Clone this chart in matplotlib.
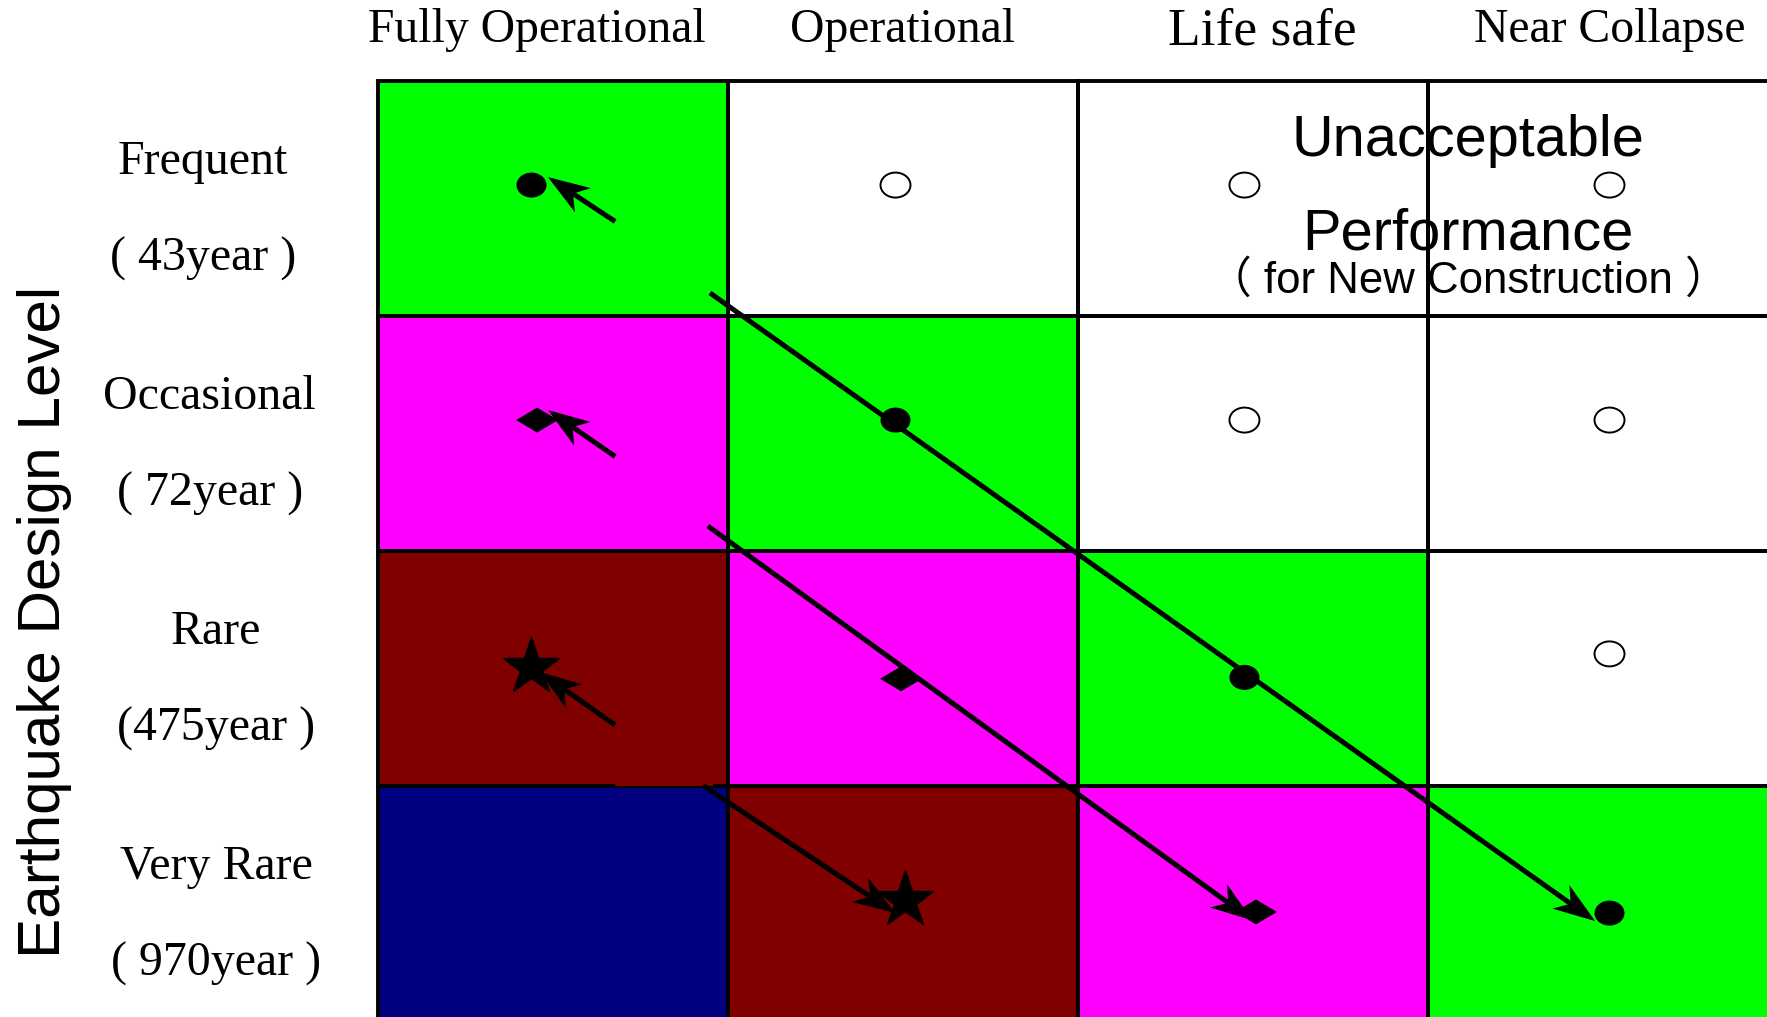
import numpy as np
import matplotlib
matplotlib.use('Agg')
import matplotlib.pyplot as plt
from matplotlib.patches import Rectangle, Ellipse, Polygon

# performance levels (columns) and earthquake levels (rows)
levels = ['Fully Operational', 'Operational', 'Life safe', 'Near Collapse']
hazards = ['Frequent', 'Occasional', 'Rare', 'Very Rare']
periods = ['( 43year )', '( 72year )', '(475year )', '( 970year )']

green, magenta, maroon, navy = '#00ff00', '#ff00ff', '#800000', '#000080'
cell_colors = [
    [green, 'white', 'white', 'white'],
    [magenta, green, 'white', 'white'],
    [maroon, magenta, green, 'white'],
    [navy, maroon, magenta, green],
]

# markers (col, row units)
filled_x = [0.44, 1.48, 2.477, 3.52]
filled_y = [0.445, 1.445, 2.54, 3.543]
open_x = [1.48, 2.477, 3.52, 2.477, 3.52, 3.52]
open_y = [0.445, 0.445, 0.445, 1.445, 1.445, 2.44]
diamond_x = [0.456, 1.496, 2.51]
diamond_y = [1.445, 2.546, 3.538]
star_x = [0.439, 1.507]
star_y = [2.496, 3.487]

# arrows: tail x, tail y, tip x, tip y
arrows = [
    (0.679, 0.60, 0.487, 0.411),
    (0.679, 1.60, 0.487, 1.402),
    (0.679, 2.743, 0.464, 2.517),
    (0.95, 0.904, 3.479, 3.577),
    (0.944, 1.896, 2.50, 3.574),
    (0.93, 3.0, 1.479, 3.543),
]

W, H = 1767, 1017
left, top, cw, rh = 377.5, 80.5, 350.0, 235.0

fig = plt.figure(figsize=(W / 100, H / 100), dpi=100)
ax = fig.add_axes([0, 0, 1, 1])
ax.set_xlim(-left / cw, (W - left) / cw)
ax.set_ylim((H - top) / rh, -top / rh)
ax.axis('off')

for r in range(4):
    for c in range(4):
        ax.add_patch(Rectangle((c, r), 1, 1, facecolor=cell_colors[r][c], edgecolor='none'))
for r in range(4):
    for c in range(4):
        ax.add_patch(Rectangle((c, r), 1, 1, facecolor='none', edgecolor='black', lw=2.8))

# little gap in the line under the Rare / Fully Operational cell
ax.add_patch(Rectangle((0.679, 2.966), 0.28, 0.036, facecolor=maroon, edgecolor='none'))

ew, eh = 30 / cw, 25 / rh
for x, y in zip(filled_x, filled_y):
    ax.add_patch(Ellipse((x, y), ew, eh, facecolor='black', edgecolor='none', zorder=4))
for x, y in zip(open_x, open_y):
    ax.add_patch(Ellipse((x, y), ew, eh, facecolor='white', edgecolor='black', lw=1.4, zorder=4))
dw, dh = 21 / cw, 12.5 / rh
for x, y in zip(diamond_x, diamond_y):
    ax.add_patch(Polygon([(x - dw, y), (x, y - dh), (x + dw, y), (x, y + dh)],
                         closed=True, facecolor='black', edgecolor='none', zorder=4))
ax.plot(star_x, star_y, ls='none', marker='*', ms=43, color='black', zorder=4)

fig.canvas.draw()
to_px = ax.transData
to_data = ax.transData.inverted()
for x0, y0, x1, y1 in arrows:
    p0 = to_px.transform((x0, y0))
    p1 = to_px.transform((x1, y1))
    u = (p1 - p0) / np.hypot(*(p1 - p0))
    n = np.array([-u[1], u[0]])
    notch = p1 - 30 * u
    head = [p1, p1 - 42 * u + 14.5 * n, notch, p1 - 42 * u - 14.5 * n]
    shaft = to_data.transform([p0, notch])
    ax.plot(shaft[:, 0], shaft[:, 1], color='black', lw=3.6, solid_capstyle='butt', zorder=5)
    ax.add_patch(Polygon(to_data.transform(head), closed=True, facecolor='black',
                         edgecolor='none', zorder=5))

serif = 'Liberation Serif'
head_x = [0.456, 1.499, 2.527, 3.521]
for i, name in enumerate(levels):
    if name == 'Life safe':
        ax.text(head_x[i], -0.209, name, ha='center', va='center', fontsize=38.5, family=serif)
    else:
        ax.text(head_x[i], -0.214, name, ha='center', va='center', fontsize=34.3, family=serif)

lab_x = [-0.499, -0.479, -0.461, -0.461]
for i in range(4):
    ax.text(lab_x[i], i + 0.348, hazards[i], ha='center', va='center', fontsize=34.5, family=serif)
    ax.text(lab_x[i], i + 0.759, periods[i], ha='center', va='center', fontsize=34.5, family=serif)

ax.text(-0.951, 2.304, 'Earthquake Design Level', rotation=90, ha='center', va='center',
        fontsize=43.4, family='Liberation Sans')

ax.text(3.116, 0.259, 'Unacceptable', ha='center', va='center', fontsize=41.5,
        family='Liberation Sans', zorder=6)
ax.text(3.116, 0.655, 'Performance', ha='center', va='center', fontsize=41.7,
        family='Liberation Sans', zorder=6)
ax.text(3.116, 0.855, '\uff08 for New Construction \uff09', ha='center', va='center',
        fontsize=31.5, family=['Liberation Sans', 'Noto Sans CJK SC'], zorder=6)

fig.savefig('out.png', dpi=100)
